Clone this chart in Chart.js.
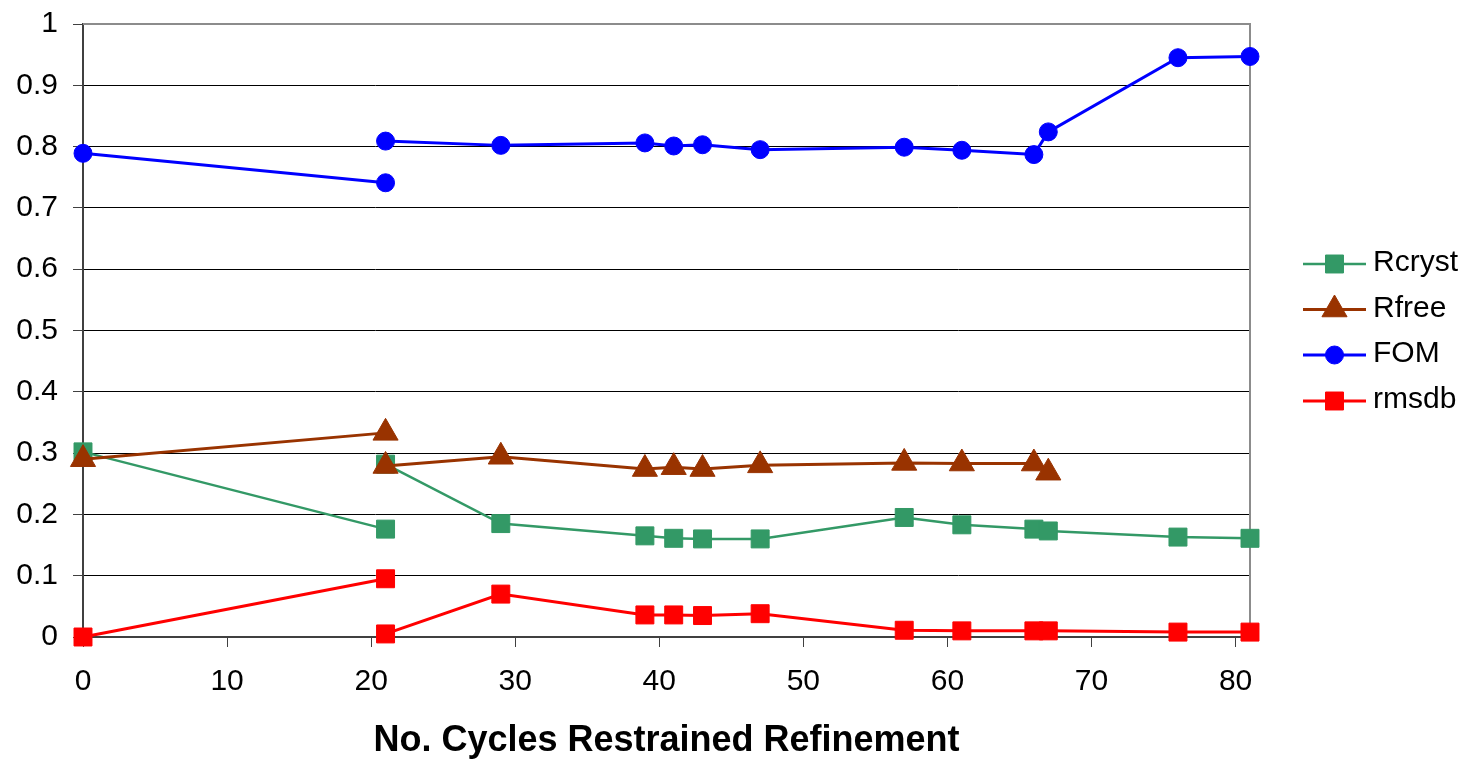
<!DOCTYPE html>
<html>
<head>
<meta charset="utf-8">
<title>Restrained refinement statistics</title>
<script src="https://cdn.jsdelivr.net/npm/chart.js@4/dist/chart.umd.min.js"></script>
<style>
  html, body { margin: 0; padding: 0; background: #fff; }
  #wrap { width: 1468px; height: 763px; position: relative; }
</style>
</head>
<body>
<div id="wrap"><canvas id="refineChart"></canvas></div>
<script>
// x positions (cycles); the repeated 21 with null values breaks each line where refinement restarts
const cycles = [0, 21, 21, 21, 29, 39, 41, 43, 47, 57, 61, 66, 67, 76, 81];

const rcryst = [0.302, 0.176, null, 0.282, 0.185, 0.165, 0.161, 0.160, 0.160, 0.195, 0.183, 0.176, 0.173, 0.163, 0.161];
const rfree  = [0.290, 0.333, null, 0.279, 0.294, 0.274, 0.277, 0.274, 0.280, 0.284, 0.283, 0.283, 0.268, null, null];
const fom    = [0.789, 0.741, null, 0.809, 0.802, 0.806, 0.801, 0.803, 0.795, 0.799, 0.794, 0.787, 0.824, 0.945, 0.947];
const rmsdb  = [0.000, 0.095, null, 0.005, 0.070, 0.036, 0.036, 0.035, 0.038, 0.011, 0.010, 0.010, 0.010, 0.008, 0.008];

const seriesNames = ['Rcryst', 'Rfree', 'FOM', 'rmsdb'];
const xTicks = [0, 10, 20, 30, 40, 50, 60, 70, 80];
const yTickLabels = ['0', '0.1', '0.2', '0.3', '0.4', '0.5', '0.6', '0.7', '0.8', '0.9', '1'];
const xTitle = 'No. Cycles Restrained Refinement';

const FONT = "'Liberation Sans', Arial, sans-serif";
Chart.defaults.font.family = FONT;
Chart.defaults.color = '#000';

function toPoints(values) {
  return cycles.map((x, i) => ({ x: x, y: values[i] }));
}

function series(label, values, color, style, radius, width, order) {
  return {
    label: label,
    data: toPoints(values),
    borderColor: color,
    backgroundColor: color,
    borderWidth: width,
    pointStyle: style,
    pointRadius: radius,
    pointHoverRadius: radius,
    pointBackgroundColor: color,
    pointBorderColor: color,
    pointBorderWidth: 1,
    tension: 0,
    spanGaps: false,
    clip: false,
    order: order
  };
}

// legend at the right: line with marker, then the name
const sideLegend = {
  id: 'sideLegend',
  afterDraw(chart) {
    const ctx = chart.ctx;
    const rows = [264, 309.5, 355, 401];
    ctx.save();
    chart.data.datasets.forEach((ds, i) => {
      const y = rows[i];
      ctx.strokeStyle = ds.borderColor;
      ctx.lineWidth = ds.borderWidth;
      ctx.beginPath();
      ctx.moveTo(1303, y);
      ctx.lineTo(1366, y);
      ctx.stroke();
      ctx.fillStyle = ds.pointBackgroundColor;
      ctx.strokeStyle = ds.pointBorderColor;
      ctx.lineWidth = 1;
      Chart.helpers.drawPoint(ctx, { pointStyle: ds.pointStyle, radius: ds.pointRadius, rotation: 0, borderWidth: 1 }, 1334.5, y);
      ctx.fillStyle = '#000';
      ctx.font = '30px ' + FONT;
      ctx.textAlign = 'left';
      ctx.textBaseline = 'middle';
      ctx.fillText(ds.label, 1373, y - 1);
    });
    ctx.restore();
  }
};

// grey frame on the top and right of the plot area
const plotFrame = {
  id: 'plotFrame',
  beforeDatasetsDraw(chart) {
    const { left, top, right, bottom } = chart.chartArea;
    const ctx = chart.ctx;
    ctx.save();
    ctx.strokeStyle = '#8c8c8c';
    ctx.lineWidth = 2;
    ctx.beginPath();
    ctx.moveTo(left, top);
    ctx.lineTo(right, top);
    ctx.lineTo(right, bottom);
    ctx.stroke();
    ctx.restore();
  }
};

new Chart(document.getElementById('refineChart'), {
  type: 'line',
  data: {
    datasets: [
      series(seriesNames[0], rcryst, '#339966', 'rect', 12.7, 2.5, 4),
      series(seriesNames[1], rfree, '#993300', 'triangle', 14.5, 3, 3),
      series(seriesNames[2], fom, '#0000ff', 'circle', 9, 3, 2),
      series(seriesNames[3], rmsdb, '#ff0000', 'rect', 12.7, 3, 1)
    ]
  },
  options: {
    responsive: true,
    maintainAspectRatio: false,
    animation: false,
    devicePixelRatio: 1,
    layout: { padding: { top: 24, right: 218, left: 0, bottom: 0 } },
    plugins: {
      legend: { display: false },
      tooltip: { enabled: false }
    },
    scales: {
      x: {
        type: 'linear',
        min: 0,
        max: 81,
        afterBuildTicks: scale => { scale.ticks = xTicks.map(v => ({ value: v })); },
        afterFit: scale => { scale.height = 126; scale.paddingLeft = 0; scale.paddingRight = 0; },
        grid: { drawOnChartArea: false, drawTicks: true, tickLength: 10, color: '#404040', lineWidth: 1 },
        border: { color: '#404040', width: 2 },
        ticks: { font: { size: 30 }, padding: 17, maxRotation: 0, color: '#000' },
        title: {
          display: true,
          text: xTitle,
          font: { size: 36, weight: 'bold' },
          color: '#000',
          padding: { top: 0, bottom: 0 }
        }
      },
      y: {
        min: 0,
        max: 1,
        afterFit: scale => { scale.width = 83; scale.paddingTop = 0; scale.paddingBottom = 0; },
        grid: { color: '#000', lineWidth: 1, drawTicks: true, tickLength: 10, tickColor: '#404040' },
        border: { color: '#404040', width: 2 },
        ticks: {
          stepSize: 0.1,
          font: { size: 30 },
          padding: 15,
          color: '#000',
          callback: (v, i) => yTickLabels[i]
        }
      }
    }
  },
  plugins: [plotFrame, sideLegend]
});
</script>
</body>
</html>
